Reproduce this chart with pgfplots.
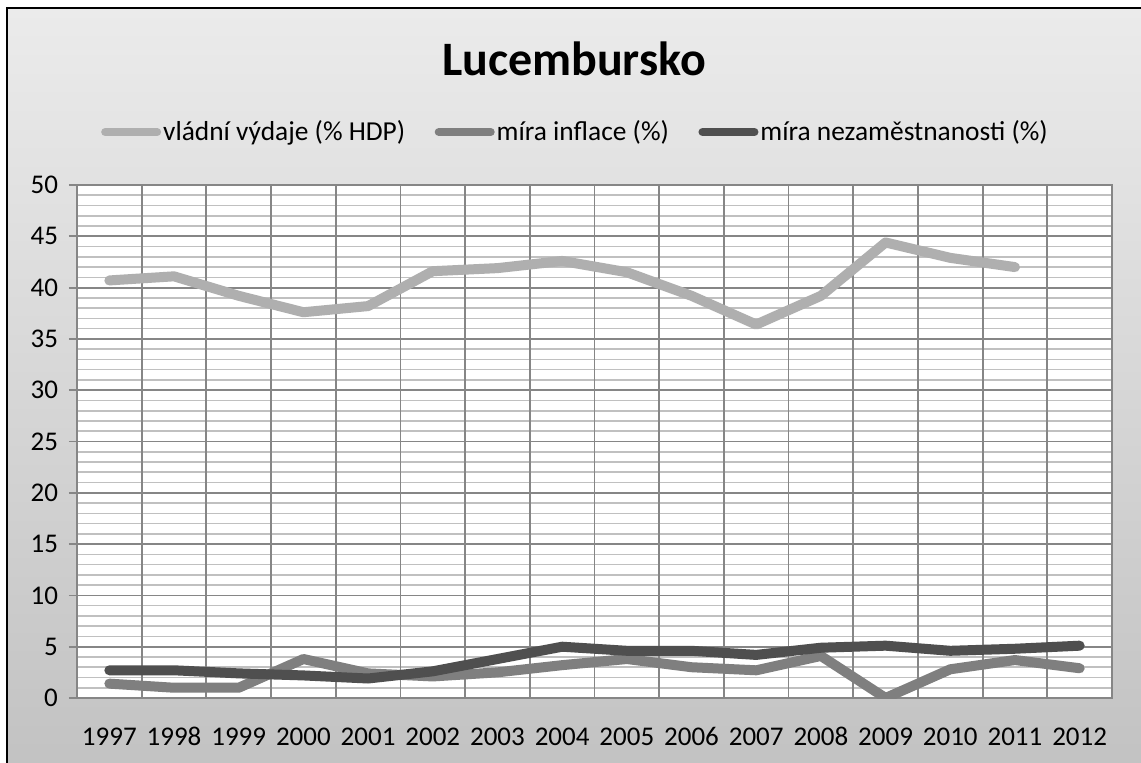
\documentclass[border=0pt]{standalone}
\usepackage{fontspec}
\setmainfont{Carlito}
\usepackage{pgfplots}
\pgfplotsset{compat=1.18}
\definecolor{cA}{HTML}{AFAFAF}
\definecolor{cB}{HTML}{7F7F7F}
\definecolor{cC}{HTML}{4F4F4F}
\definecolor{gridmaj}{HTML}{868686}
\definecolor{gridmin}{HTML}{C0C0C0}
\definecolor{bgtop}{HTML}{EBEBEB}
\definecolor{bgbot}{HTML}{C2C2C2}
\pgfplotstableread{
x y
0 40.7
1 41.1
2 39.2
3 37.6
4 38.2
5 41.6
6 41.9
7 42.6
8 41.5
9 39.2
10 36.4
11 39.2
12 44.4
13 42.9
14 42.0
}\vydaje
\pgfplotstableread{
x y
0 1.4
1 1.0
2 1.0
3 3.8
4 2.4
5 2.1
6 2.5
7 3.2
8 3.8
9 3.0
10 2.7
11 4.1
12 0.0
13 2.8
14 3.7
15 2.9
}\inflace
\pgfplotstableread{
x y
0 2.7
1 2.7
2 2.4
3 2.2
4 1.9
5 2.6
6 3.8
7 5.0
8 4.6
9 4.6
10 4.2
11 4.9
12 5.1
13 4.6
14 4.8
15 5.1
}\nezam
\begin{document}
\begin{tikzpicture}
\useasboundingbox (0,0) rectangle (570.5pt,381pt);
\fill[white] (0,0) rectangle (570.5pt,381pt);
\shade[top color=bgtop, bottom color=bgbot] (3.5pt,-5pt) rectangle (580pt,377pt);
\draw[black, line width=1pt] (3.5pt,-5pt) rectangle (580pt,377pt);
\node[font=\fontsize{24}{28}\selectfont\bfseries] at (287pt,351.5pt) {Lucembursko};
\begin{axis}[
  at={(38.5pt,32pt)}, anchor=south west,
  scale only axis, width=517.5pt, height=256.5pt,
  xmin=-0.5, xmax=15.5, ymin=0, ymax=50,
  xtick={0,...,15},
  xticklabels={1997,1998,1999,2000,2001,2002,2003,2004,2005,2006,2007,2008,2009,2010,2011,2012},
  ytick={0,5,...,50},
  minor y tick num=4,
  ymajorgrids, yminorgrids,
  major grid style={gridmaj, line width=0.9pt},
  minor grid style={gridmin, line width=0.8pt},
  extra x ticks={-0.5,0.5,...,15.5},
  extra x tick labels={},
  extra x tick style={grid=major, xtick style={draw=none}},
  axis line style={gridmaj, line width=0.9pt},
  axis background/.style={fill=white},
  tick align=outside, tick pos=left,
  xtick style={draw=none},
  ytick style={gridmaj, line width=0.9pt},
  major tick length=4pt, minor tick length=0pt,
  ticklabel style={font=\fontsize{13.5}{16}\selectfont},
  /pgf/number format/assume math mode=true,
  xticklabel style={text height=9.5pt, text depth=0pt, yshift=-6.5pt},
  yticklabel style={xshift=-2pt},
  legend columns=3,
  legend style={at={(axis description cs:0.4816,1.1033)}, anchor=center, draw=none, fill=none,
    font=\fontsize{13.7}{16}\selectfont,
    /tikz/every even column/.append style={column sep=13.75pt},
    nodes={inner xsep=1pt}},
  legend image code/.code={\draw[#1, line width=4pt, line cap=round] (0pt,0pt) -- (26pt,0pt);},
  every axis plot/.append style={line width=5pt, line cap=round, line join=round},
]
\addplot[cA] table[x=x,y=y] {\vydaje};
\addplot[cB] table[x=x,y=y] {\inflace};
\addplot[cC] table[x=x,y=y] {\nezam};
\legend{vládní výdaje (\% HDP), míra inflace (\%), míra nezaměstnanosti (\%)}
\end{axis}
\end{tikzpicture}
\end{document}
